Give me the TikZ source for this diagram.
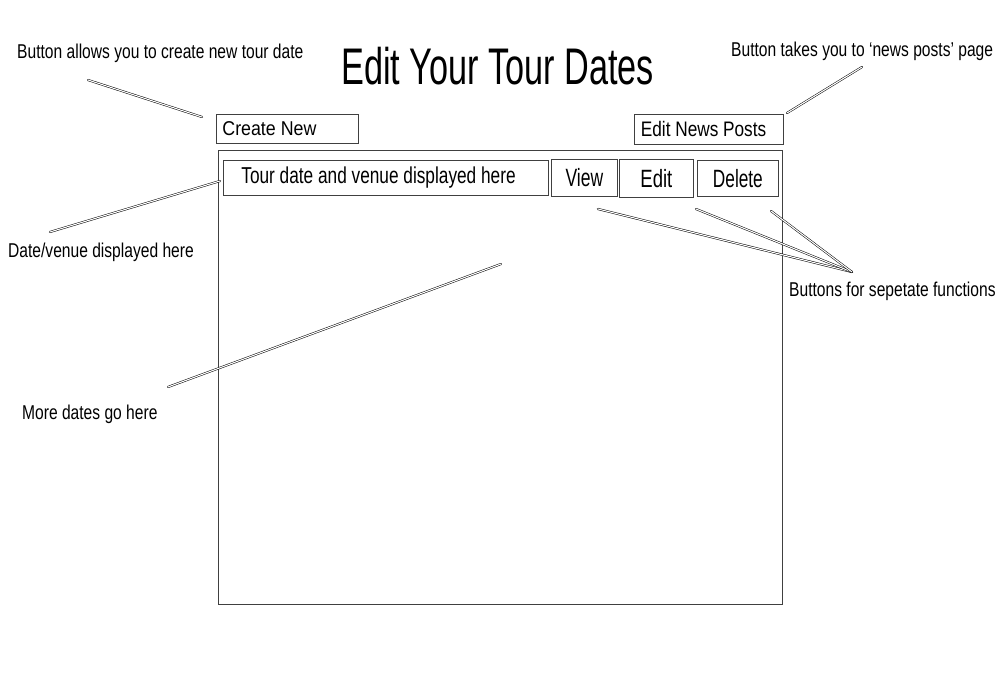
\documentclass[tikz,border=0pt]{standalone}
\usepackage{fontspec}
\setmainfont{Liberation Sans}
\newcommand\tf[2]{\fontspec[FakeStretch=#2]{Liberation Sans}\fontsize{#1}{#1}\selectfont}
\begin{document}
\begin{tikzpicture}[x=1pt,y=-1pt,
  box/.style={draw=black!75,line width=0.8pt,inner sep=0pt,anchor=north west},
  lbl/.style={inner sep=0pt,anchor=base west,font=\tf{20}{0.78}},
  conn/.style={draw=black,line width=0.5pt,double=white,double distance=1.1pt,line cap=round}]
\useasboundingbox[fill=white] (0,0) rectangle (1000,700);
% title
\node[inner sep=0pt,anchor=base west,font=\tf{51.5}{0.665}] (title) at (341,85) {Edit Your Tour Dates};
% panel
\node[box,minimum width=564pt,minimum height=454pt] (panel) at (218,150) {};
% buttons
\node[box,inner xsep=6pt,minimum height=29pt,font=\tf{20}{0.89}] (create) at (216,114) {\makebox[130pt][l]{Create New}};
\node[box,inner xsep=6.5pt,minimum height=30pt,font=\tf{21}{0.82}] (news) at (634,114) {\makebox[136pt][l]{Edit News Posts}};
\node[box,inner xsep=18pt,minimum height=35pt,font=\tf{23}{0.75}] (tour) at (223,160) {\makebox[289pt][l]{\raisebox{-2pt}{Tour date and venue displayed here}}};
\node[box,minimum width=66pt,minimum height=37pt,font=\tf{25}{0.70}] (view) at (551,159) {View};
\node[box,minimum width=74pt,minimum height=38pt,font=\tf{25}{0.74}] (edit) at (619,159) {Edit};
\node[box,minimum width=81pt,minimum height=36pt,font=\tf{25}{0.69}] (delete) at (697,160) {Delete};
% labels
\node[lbl] (l1) at (17,59) {Button allows you to create new tour date};
\node[lbl] (l2) at (731,56.7) {Button takes you to ‘news posts’ page};
\node[lbl] (l3) at (8,258) {Date/venue displayed here};
\node[lbl] (l4) at (22,419) {More dates go here};
\node[lbl] (l5) at (789,296) {Buttons for sepetate functions};
% connector end points
\coordinate (a1) at (88,80);   \coordinate (b1) at (202,117);
\coordinate (a2) at (862,67);  \coordinate (b2) at (787,113);
\coordinate (a3) at (50,232);  \coordinate (b3) at (220,181);
\coordinate (a4) at (168,387); \coordinate (b4) at (501,264);
\coordinate (hub) at (852,272);
\coordinate (bv) at (598,209); \coordinate (be) at (696,209); \coordinate (bd) at (771,211);
\draw[conn] (a1) -- (b1);
\draw[conn] (a2) -- (b2);
\draw[conn] (a3) -- (b3);
\draw[conn] (a4) -- (b4);
\draw[conn] (hub) -- (bv);
\draw[conn] (hub) -- (be);
\draw[conn] (hub) -- (bd);
\end{tikzpicture}
\end{document}
